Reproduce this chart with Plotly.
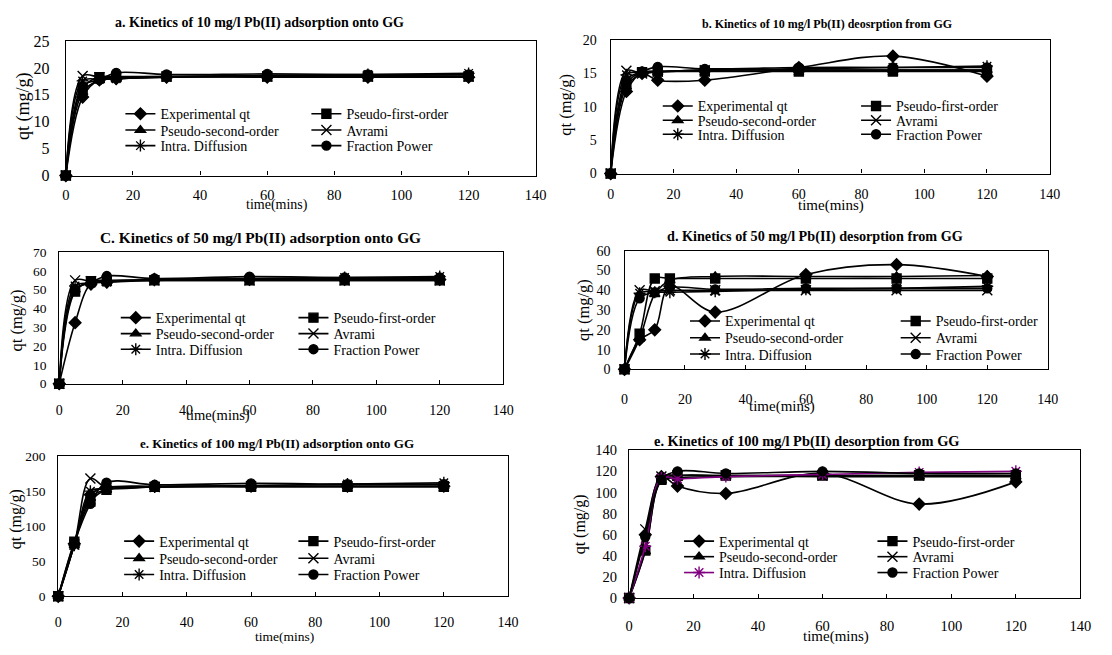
import plotly.graph_objects as go

W, H = 1112, 655

time_min = [0, 5, 10, 15, 30, 60, 90, 120]
model_names = ["Experimental qt", "Pseudo-first-order", "Pseudo-second-order",
               "Avrami", "Intra. Diffusion", "Fraction Power"]
x_ticks = [0, 20, 40, 60, 80, 100, 120, 140]

# a. 10 mg/l Pb(II) adsorption onto GG
a_exp = [0, 14.6, 17.8, 18.0, 18.3, 18.3, 18.3, 18.3]
a_pfo = [0, 16.3, 18.3, 18.4, 18.4, 18.4, 18.4, 18.4]
a_pso = [0, 15.5, 17.7, 18.0, 18.4, 18.6, 18.6, 18.7]
a_avrami = [0, 18.5, 18.3, 18.3, 18.4, 18.4, 18.4, 18.4]
a_intra = [0, 17.6, 17.9, 18.0, 18.3, 18.6, 18.8, 19.0]
a_fp = [0, 16.6, 17.8, 19.1, 18.8, 18.9, 18.8, 18.8]

# b. 10 mg/l Pb(II) desorption from GG
b_exp = [0, 12.3, 15.0, 14.0, 14.0, 15.9, 17.6, 14.6]
b_pfo = [0, 13.5, 15.2, 15.3, 15.3, 15.3, 15.3, 15.3]
b_pso = [0, 13.0, 15.0, 15.2, 15.5, 15.5, 15.5, 15.5]
b_avrami = [0, 15.4, 15.0, 15.3, 15.5, 15.5, 15.5, 15.5]
b_intra = [0, 14.8, 15.2, 15.3, 15.5, 15.7, 15.9, 16.1]
b_fp = [0, 14.0, 15.3, 16.0, 15.7, 15.9, 15.9, 15.9]

# c. 50 mg/l Pb(II) adsorption onto GG
c_exp = [0, 32.5, 53.0, 54.0, 55.5, 55.5, 55.5, 55.5]
c_pfo = [0, 49.0, 54.5, 55.0, 55.0, 55.0, 55.0, 55.0]
c_pso = [0, 50.0, 53.5, 54.5, 55.5, 55.8, 56.0, 56.0]
c_avrami = [0, 55.0, 54.5, 54.8, 55.0, 55.0, 55.0, 55.0]
c_intra = [0, 52.0, 53.5, 54.0, 55.0, 56.0, 56.5, 57.0]
c_fp = [0, 50.0, 54.0, 57.3, 56.0, 57.0, 56.5, 56.5]

# d. 50 mg/l Pb(II) desorption from GG
d_exp = [0, 15.0, 20.0, 42.0, 29.0, 48.0, 53.0, 47.0]
d_pfo = [0, 18.0, 46.0, 46.0, 46.0, 46.0, 46.0, 46.0]
d_pso = [0, 15.5, 38.0, 45.0, 47.0, 47.0, 47.0, 47.5]
d_avrami = [0, 40.0, 39.5, 40.0, 40.0, 40.0, 40.0, 40.0]
d_intra = [0, 38.5, 39.0, 39.0, 39.5, 40.5, 41.0, 42.0]
d_fp = [0, 36.0, 39.0, 41.5, 40.5, 41.0, 41.0, 41.0]

# e. 100 mg/l Pb(II) adsorption onto GG
e_exp = [0, 75, 145, 155, 157, 157, 157, 157]
e_pfo = [0, 78, 135, 152, 156, 156, 156, 156]
e_pso = [0, 73, 140, 152, 156, 157, 157, 157]
e_avrami = [0, 74, 168, 155, 156, 157, 157, 157]
e_intra = [0, 73, 150, 153, 156, 158, 160, 162]
e_fp = [0, 76, 132, 162, 159, 161, 160, 160]

# f. 100 mg/l Pb(II) desorption from GG
f_exp = [0, 60, 115, 106, 99, 118, 89, 110]
f_pfo = [0, 45, 112, 116, 116, 116, 116, 116]
f_pso = [0, 44, 111, 114, 115, 115, 115, 115]
f_avrami = [0, 65, 115, 116, 116, 116, 116, 116]
f_intra = [0, 49, 114, 113, 115, 117, 119, 120]
f_fp = [0, 58, 112, 120, 118, 120, 118, 118]

FONT = "Liberation Serif"
symbols = ["diamond", "square", "triangle-up", "x-thin-open", "asterisk-open", "circle"]
sizes = [9, 9, 9, 10, 10, 9]

panels = [
    dict(series=[a_exp, a_pfo, a_pso, a_avrami, a_intra, a_fp], ymax=25, dtick=5,
         box=(62.7, 539, 34, 172), title="a. Kinetics of 10 mg/l Pb(II) adsorption onto GG",
         t_xy=(259, 15), t_size=14, xt_xy=(277, 202), xt_size=14, yt_xy=(20, 101), yt_size=18,
         ytick_size=16, xtick_size=14.5, x_standoff=6, y_standoff=12,
         leg_x=(123, 299), leg_y=(109, 125.7, 141.7)),
    dict(series=[b_exp, b_pfo, b_pso, b_avrami, b_intra, b_fp], ymax=20, dtick=5,
         box=(615, 1060, 33, 170), title="b. Kinetics of 10 mg/l Pb(II) deosrption from GG",
         t_xy=(834, 16), t_size=12, xt_xy=(838, 203), xt_size=15, yt_xy=(569, 99), yt_size=16.5,
         ytick_size=14, xtick_size=14, x_standoff=7, y_standoff=10,
         leg_x=(667.7, 856), leg_y=(101, 115.7, 130)),
    dict(series=[c_exp, c_pfo, c_pso, c_avrami, c_intra, c_fp], ymax=70, dtick=10,
         box=(56, 506, 250.7, 385.7), title="C. Kinetics of 50 mg/l Pb(II) adsorption onto GG",
         t_xy=(260, 236), t_size=15.4, xt_xy=(217, 418), xt_size=14.5, yt_xy=(13, 321), yt_size=16.5,
         ytick_size=13.5, xtick_size=14, x_standoff=13, y_standoff=9,
         leg_x=(118.3, 286), leg_y=(318.3, 334.7, 350.7)),
    dict(series=[d_exp, d_pfo, d_pso, d_avrami, d_intra, d_fp], ymax=60, dtick=10,
         box=(629, 1058, 249.3, 371), title="d. Kinetics of 50 mg/l Pb(II) desorption from GG",
         t_xy=(822, 235), t_size=14.2, xt_xy=(789, 409), xt_size=15, yt_xy=(588, 310), yt_size=16.5,
         ytick_size=14, xtick_size=14, x_standoff=17, y_standoff=10,
         leg_x=(695.3, 896), leg_y=(321.7, 339, 355.7)),
    dict(series=[e_exp, e_pfo, e_pso, e_avrami, e_intra, e_fp], ymax=200, dtick=50,
         box=(55, 511, 460, 604), title="e. Kinetics of 100 mg/l Pb(II) adsorption onto GG",
         t_xy=(277, 447), t_size=13, xt_xy=(284, 645), xt_size=13.5, yt_xy=(13, 525), yt_size=16,
         ytick_size=13.5, xtick_size=14, x_standoff=13, y_standoff=9,
         leg_x=(121.7, 286), leg_y=(547.7, 565.3, 582)),
    dict(series=[f_exp, f_pfo, f_pso, f_avrami, f_intra, f_fp], ymax=140, dtick=20,
         box=(633.7, 1091, 454, 605.7), title="e. Kinetics of 100 mg/l Pb(II) desorption from GG",
         t_xy=(814, 445), t_size=14.4, xt_xy=(843, 645), xt_size=15, yt_xy=(584, 530), yt_size=16,
         ytick_size=14.5, xtick_size=14.5, x_standoff=14, y_standoff=8,
         leg_x=(689.3, 872.7), leg_y=(547.7, 563.7, 580)),
]

# only the intra-particle diffusion curve of the last panel is drawn in purple
series_colors = [["black"] * 6 for _ in panels]
series_colors[5][4] = "#800080"

fig = go.Figure()
annotations = []


def fx(px):
    return px / W


def fy(py):
    return 1 - py / H


for p, cfg in enumerate(panels):
    n = p + 1
    xa = "x" if n == 1 else f"x{n}"
    ya = "y" if n == 1 else f"y{n}"
    x0, x1, ytop, ybot = cfg["box"]

    for i, (name, vals) in enumerate(zip(model_names, cfg["series"])):
        row = i // 2
        leg_idx = p * 3 + row + 1
        leg = "legend" if leg_idx == 1 else f"legend{leg_idx}"
        col = series_colors[p][i]
        fig.add_trace(go.Scatter(
            x=time_min, y=vals, name=name, xaxis=xa, yaxis=ya, legend=leg,
            mode="lines+markers", cliponaxis=False,
            line=dict(color=col, width=1.6, shape="spline", smoothing=1.0),
            marker=dict(symbol=symbols[i], size=sizes[i], color=col,
                        line=dict(color=col, width=1.4)),
        ))

    axis_common = dict(showline=True, linecolor="black", linewidth=1.3, mirror=True,
                       showgrid=False, zeroline=False)
    fig.layout[("xaxis" if n == 1 else f"xaxis{n}")] = dict(
        axis_common, domain=[fx(x0), fx(x1)], anchor=ya, range=[0, 140],
        tickvals=x_ticks, ticks="inside", ticklen=4, tickcolor="black",
        tickfont=dict(family=FONT, size=cfg["xtick_size"], color="black"),
        ticklabelstandoff=cfg["x_standoff"],
    )
    fig.layout[("yaxis" if n == 1 else f"yaxis{n}")] = dict(
        axis_common, domain=[fy(ybot), fy(ytop)], anchor=xa, range=[0, cfg["ymax"]],
        dtick=cfg["dtick"], ticks="",
        tickfont=dict(family=FONT, size=cfg["ytick_size"], color="black"),
        ticklabelstandoff=cfg["y_standoff"],
    )

    for row in range(3):
        leg_idx = p * 3 + row + 1
        key = "legend" if leg_idx == 1 else f"legend{leg_idx}"
        fig.layout[key] = dict(
            orientation="h", x=fx(cfg["leg_x"][0] - 5), xanchor="left",
            y=fy(cfg["leg_y"][row]), yanchor="middle",
            entrywidth=cfg["leg_x"][1] - cfg["leg_x"][0] - 35, entrywidthmode="pixels",
            bgcolor="rgba(0,0,0,0)", borderwidth=0, itemwidth=30,
            font=dict(family=FONT, size=14, color="black"),
        )

    annotations.append(dict(text=f"<b>{cfg['title']}</b>", x=fx(cfg["t_xy"][0]), y=fy(cfg["t_xy"][1]),
                            xref="paper", yref="paper", showarrow=False,
                            xanchor="center", yanchor="middle",
                            font=dict(family=FONT, size=cfg["t_size"], color="black")))
    annotations.append(dict(text="time(mins)", x=fx(cfg["xt_xy"][0]), y=fy(cfg["xt_xy"][1]),
                            xref="paper", yref="paper", showarrow=False,
                            xanchor="center", yanchor="middle",
                            font=dict(family=FONT, size=cfg["xt_size"], color="black")))
    annotations.append(dict(text="qt (mg/g)", x=fx(cfg["yt_xy"][0]), y=fy(cfg["yt_xy"][1]),
                            xref="paper", yref="paper", showarrow=False, textangle=-90,
                            xanchor="center", yanchor="middle",
                            font=dict(family=FONT, size=cfg["yt_size"], color="black")))

fig.update_layout(
    width=W, height=H, margin=dict(l=0, r=0, t=0, b=0),
    paper_bgcolor="white", plot_bgcolor="white",
    showlegend=True, annotations=annotations,
    font=dict(family=FONT, color="black"),
)

fig.write_html("out.html")
